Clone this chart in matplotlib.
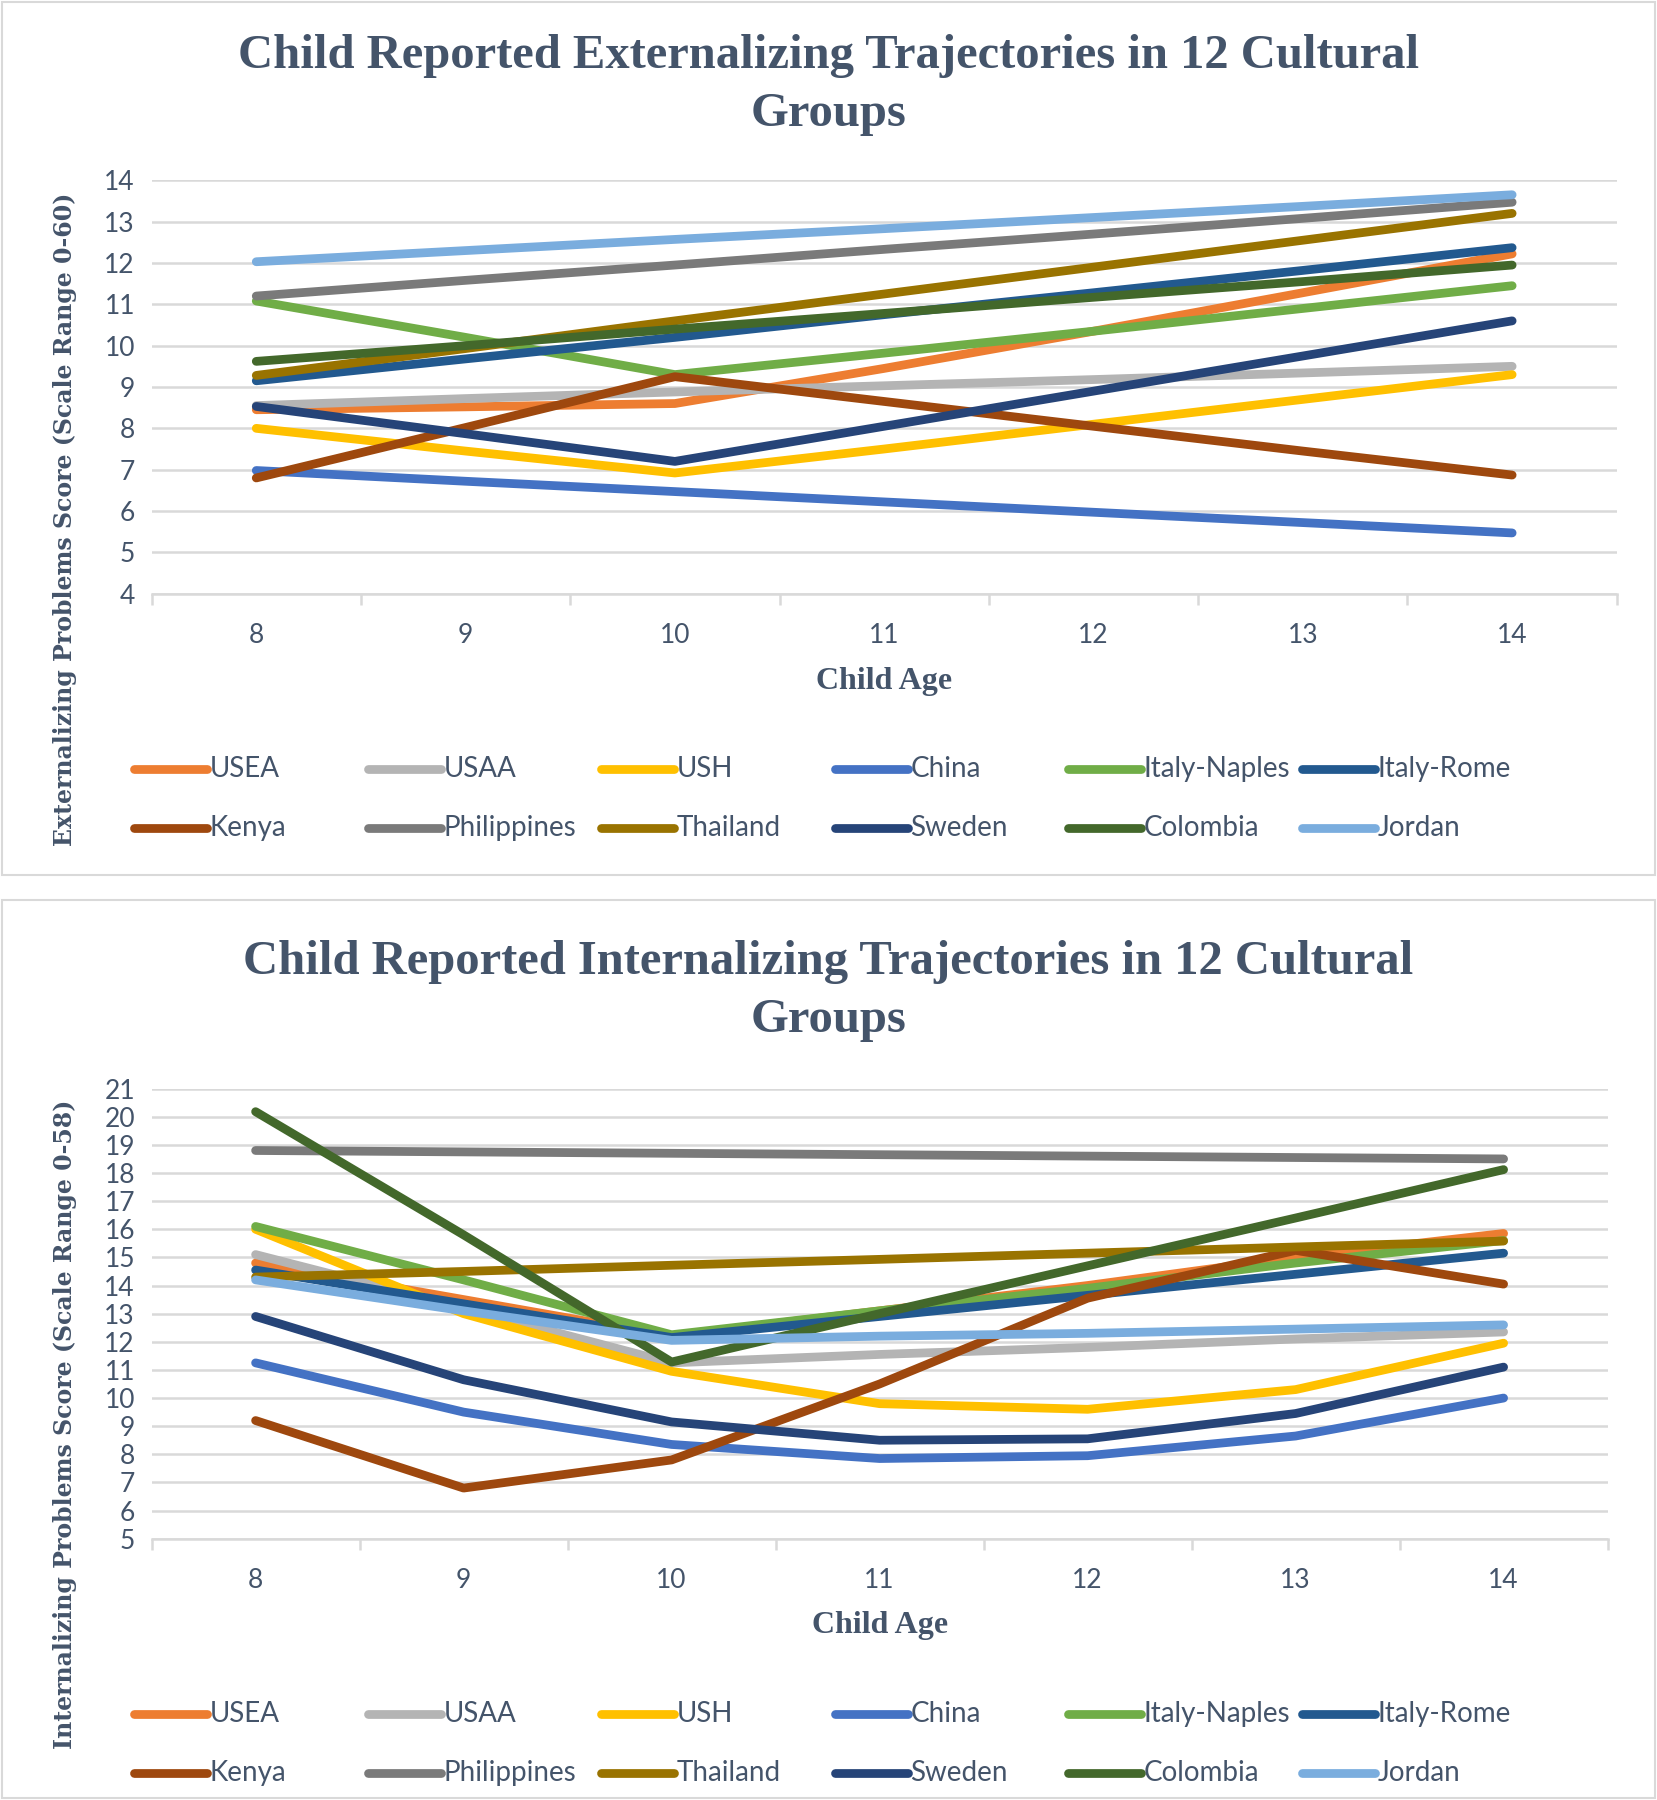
import matplotlib.pyplot as plt
from matplotlib.lines import Line2D
from matplotlib.patches import Rectangle

# ages on the x axis
ages = [8, 9, 10, 11, 12, 13, 14]

groups = ["USEA", "USAA", "USH", "China", "Italy-Naples", "Italy-Rome",
          "Kenya", "Philippines", "Thailand", "Sweden", "Colombia", "Jordan"]
colors = ["#ED7D31", "#B4B4B4", "#FFC000", "#4472C4", "#70AD47", "#22598F",
          "#9E480E", "#7A7A7A", "#997300", "#264478", "#43682B", "#7AADDE"]

# externalizing scores
ext_usea = [8.45, 8.52, 8.6, 9.45, 10.35, 11.28, 12.22]
ext_usaa = [8.55, 8.72, 8.88, 9.03, 9.18, 9.34, 9.5]
ext_ush = [8.0, 7.45, 6.92, 7.5, 8.1, 8.7, 9.3]
ext_china = [6.98, 6.72, 6.47, 6.22, 5.97, 5.72, 5.47]
ext_naples = [11.08, 10.2, 9.3, 9.82, 10.35, 10.9, 11.45]
ext_rome = [9.15, 9.68, 10.2, 10.75, 11.28, 11.82, 12.37]
ext_kenya = [6.8, 8.02, 9.25, 8.65, 8.05, 7.45, 6.87]
ext_philippines = [11.2, 11.58, 11.95, 12.33, 12.7, 13.08, 13.47]
ext_thailand = [9.28, 9.93, 10.6, 11.25, 11.9, 12.55, 13.2]
ext_sweden = [8.53, 7.87, 7.2, 8.05, 8.9, 9.75, 10.6]
ext_colombia = [9.62, 10.0, 10.4, 10.78, 11.17, 11.55, 11.95]
ext_jordan = [12.03, 12.3, 12.57, 12.83, 13.1, 13.37, 13.65]

# internalizing scores
int_usea = [14.8, 13.5, 12.2, 13.1, 14.0, 15.0, 15.85]
int_usaa = [15.1, 13.2, 11.25, 11.55, 11.8, 12.1, 12.35]
int_ush = [16.0, 13.0, 10.95, 9.8, 9.6, 10.3, 11.95]
int_china = [11.25, 9.5, 8.35, 7.85, 7.95, 8.65, 10.0]
int_naples = [16.1, 14.2, 12.25, 13.1, 13.9, 14.8, 15.6]
int_rome = [14.55, 13.35, 12.15, 12.9, 13.65, 14.4, 15.15]
int_kenya = [9.2, 6.8, 7.8, 10.5, 13.55, 15.25, 14.05]
int_philippines = [18.8, 18.75, 18.7, 18.65, 18.6, 18.55, 18.5]
int_thailand = [14.3, 14.5, 14.72, 14.93, 15.15, 15.37, 15.58]
int_sweden = [12.9, 10.65, 9.15, 8.5, 8.55, 9.45, 11.1]
int_colombia = [20.18, 15.8, 11.28, 13.0, 14.7, 16.4, 18.12]
int_jordan = [14.2, 13.1, 12.05, 12.2, 12.3, 12.45, 12.6]

ext_values = [ext_usea, ext_usaa, ext_ush, ext_china, ext_naples, ext_rome,
              ext_kenya, ext_philippines, ext_thailand, ext_sweden, ext_colombia, ext_jordan]
int_values = [int_usea, int_usaa, int_ush, int_china, int_naples, int_rome,
              int_kenya, int_philippines, int_thailand, int_sweden, int_colombia, int_jordan]

W, H = 1657, 1800
TXT = "#44546A"
GRID = "#D9D9D9"
LW = 6.3
SERIF = "Liberation Serif"
SANS = "Lato"

fig = plt.figure(figsize=(W / 100, H / 100), dpi=100)


def fx(px):
    return px / W


def fy(py):
    return 1 - py / H


def panel(box, axpos, values, ymin, ymax, title, title_y, ylabel, ylabel_y, xlabel_y, legend_y):
    # panel frame
    x0, y0, x1, y1 = box
    fig.add_artist(Rectangle((fx(x0), fy(y1)), fx(x1 - x0), (y1 - y0) / H,
                             transform=fig.transFigure, fill=False,
                             edgecolor=GRID, lw=1.5))
    l, t, r, b = axpos
    ax = fig.add_axes([fx(l), fy(b), fx(r - l), (b - t) / H])
    for vals, c in zip(values, colors):
        ax.plot(ages, vals, color=c, lw=LW, solid_capstyle="round",
                solid_joinstyle="round")
    ax.set_xlim(7.5, 14.5)
    ax.set_ylim(ymin, ymax)
    ax.set_yticks(range(ymin, ymax + 1))
    ax.set_xticks(ages)
    ax.set_xticks([a - 0.5 for a in ages] + [14.5], minor=True)
    ax.yaxis.grid(True, color=GRID, lw=1.8)
    ax.set_axisbelow(True)
    for s in ["top", "right", "left"]:
        ax.spines[s].set_visible(False)
    ax.spines["bottom"].set_color(GRID)
    ax.spines["bottom"].set_linewidth(1.8)
    ax.tick_params(axis="y", length=0, pad=12, labelsize=19, labelcolor=TXT)
    ax.tick_params(axis="x", which="major", length=0, pad=21, labelsize=19, labelcolor=TXT)
    ax.tick_params(axis="x", which="minor", length=8, width=1.8, color=GRID)
    for lab in ax.get_xticklabels() + ax.get_yticklabels():
        lab.set_fontfamily(SANS)

    fig.text(0.5, fy(title_y), title, ha="center", va="center", fontsize=35,
             fontweight="bold", family=SERIF, color=TXT, linespacing=1.4)
    fig.text(fx((l + r) / 2), fy(xlabel_y), "Child Age", ha="center", va="center",
             fontsize=23, fontweight="bold", family=SERIF, color=TXT)
    fig.text(fx(65), fy(ylabel_y), ylabel, ha="center", va="center", rotation=90,
             fontsize=17, fontweight="bold", family="DejaVu Serif", color=TXT)

    # legend, 2 rows x 6 columns
    for i, (g, c) in enumerate(zip(groups, colors)):
        row, col = divmod(i, 6)
        xs = 134 + col * 233.5
        ys = legend_y[row]
        fig.add_artist(Line2D([fx(xs), fx(xs + 73)], [fy(ys), fy(ys)],
                              transform=fig.transFigure, color=c, lw=LW,
                              solid_capstyle="round"))
        fig.text(fx(xs + 76), fy(ys), g, ha="left", va="center", fontsize=20,
                 family=SANS, color=TXT)
    return ax


panel((2, 2, 1655, 875), (151.6, 180.3, 1616.8, 593.7), ext_values, 4, 14,
      "Child Reported Externalizing Trajectories in 12 Cultural\nGroups", 85,
      "Externalizing Problems Score (Scale Range 0-60)", 519, 681, (769, 828))

panel((2, 900, 1655, 1798), (151.6, 1088.6, 1607.6, 1538.7), int_values, 5, 21,
      "Child Reported Internalizing Trajectories in 12 Cultural\nGroups", 991,
      "Internalizing Problems Score (Scale Range 0-58)", 1424, 1626, (1714, 1773))

plt.savefig("out.png", dpi=100)
